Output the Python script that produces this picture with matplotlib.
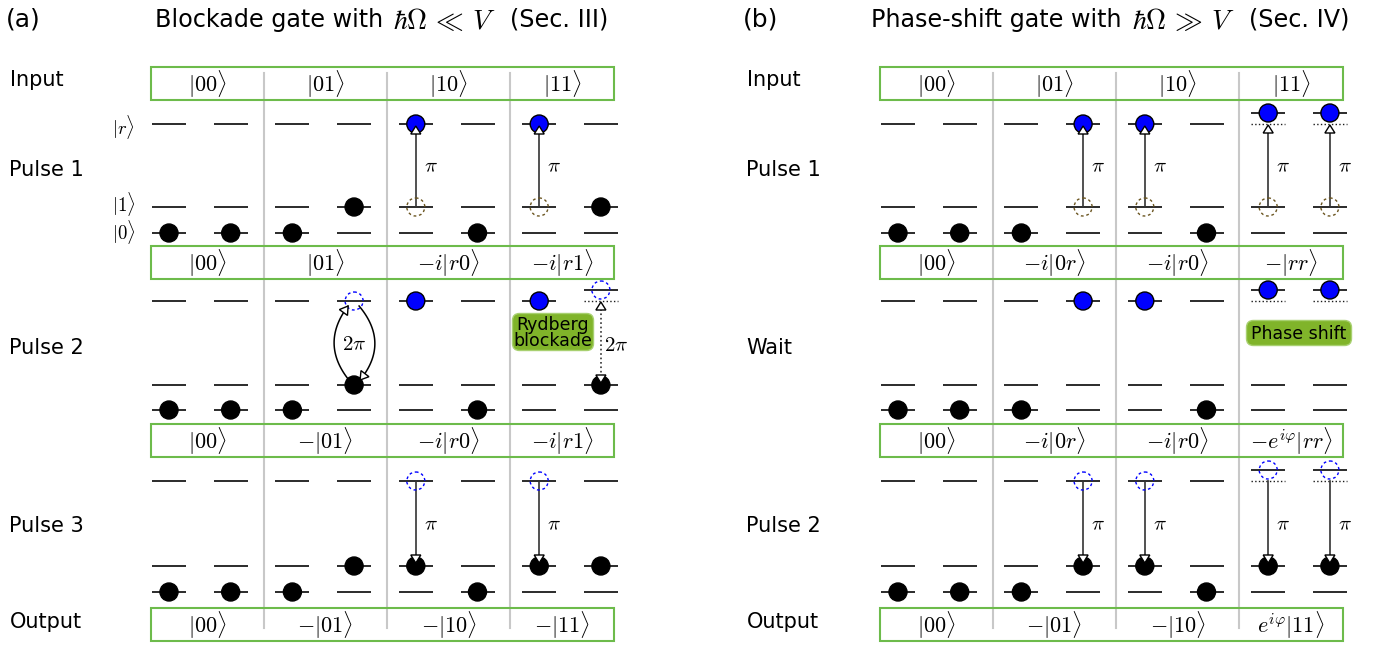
import numpy as np
import matplotlib
matplotlib.use("Agg")
import matplotlib.pyplot as plt
from matplotlib.patches import Circle, Polygon, FancyBboxPatch, Rectangle

plt.rcParams["mathtext.fontset"] = "cm"
plt.rcParams["font.family"] = ["DejaVu Sans"]

# ---------------------------------------------------------------------------
# Gate content
# Atom codes: '0' / '1' ground levels, 'r' Rydberg, 'R' interaction-shifted
# Rydberg level, '1^r' / '1^R' pi pulse up, 'r_1' / 'R_1' pi pulse down,
# '1o' full 2pi rotation, '1x' blocked 2pi rotation.
# ---------------------------------------------------------------------------
A_LABEL = "(a)"
A_TITLE = ["Blockade gate with", r"$\hbar\Omega\,\ll\,V$", "(Sec. III)"]
A_ROWS = ["Pulse 1", "Pulse 2", "Pulse 3"]
A_STATES = [
    ["0", "0", "0", "1", "1^r", "0", "1^r", "1"],
    ["0", "0", "0", "1o", "r", "0", "r", "1x"],
    ["0", "0", "0", "1", "r_1", "0", "r_1", "1"],
]
A_KETS = [
    [r"$|00\rangle$", r"$|01\rangle$", r"$|10\rangle$", r"$|11\rangle$"],
    [r"$|00\rangle$", r"$|01\rangle$", r"$-i|r0\rangle$", r"$-i|r1\rangle$"],
    [r"$|00\rangle$", r"$-|01\rangle$", r"$-i|r0\rangle$", r"$-i|r1\rangle$"],
    [r"$|00\rangle$", r"$-|01\rangle$", r"$-|10\rangle$", r"$-|11\rangle$"],
]
A_TAG = "Rydberg\nblockade"

B_LABEL = "(b)"
B_TITLE = ["Phase-shift gate with", r"$\hbar\Omega\,\gg\,V$", "(Sec. IV)"]
B_ROWS = ["Pulse 1", "Wait", "Pulse 2"]
B_STATES = [
    ["0", "0", "0", "1^r", "1^r", "0", "1^R", "1^R"],
    ["0", "0", "0", "r", "r", "0", "R", "R"],
    ["0", "0", "0", "r_1", "r_1", "0", "R_1", "R_1"],
]
B_KETS = [
    [r"$|00\rangle$", r"$|01\rangle$", r"$|10\rangle$", r"$|11\rangle$"],
    [r"$|00\rangle$", r"$-i|0r\rangle$", r"$-i|r0\rangle$", r"$-|rr\rangle$"],
    [r"$|00\rangle$", r"$-i|0r\rangle$", r"$-i|r0\rangle$", r"$-e^{i\varphi}|rr\rangle$"],
    [r"$|00\rangle$", r"$-|01\rangle$", r"$-|10\rangle$", r"$e^{i\varphi}|11\rangle$"],
]
B_TAG = "Phase shift"

LEVEL_KETS = [r"$|r\rangle$", r"$|1\rangle$", r"$|0\rangle$"]
PULSE_AREA = r"$\pi$"
LOOP_AREA = r"$2\pi$"

# ---------------------------------------------------------------------------
# Layout (pixel units, y downward)
# ---------------------------------------------------------------------------
W, H = 1396, 646
ATOM_DX = 61.7
HALF = 17            # half length of a level line
RAD = 9              # atom radius
SHIFT = 11           # interaction shift of the Rydberg level
Y_R = [124, 301, 481]
Y_1 = [207, 385, 566]
Y_0 = [233, 410, 592]
LEVEL_KET_Y = [127, 204, 232]
BOX_TOP = [67, 246, 424, 608]
BOX_H = 33
ROW_LABEL_Y = [170, 348, 526]

GREEN_EDGE = "#6dbb4b"
TAG_FACE = "#80b42a"
DIVIDER = "#c8c8c8"
BLUE = "#0000ff"
BROWN = "#6b5520"
LINE = "#1a1a1a"

fig = plt.figure(figsize=(W / 100, H / 100), dpi=100)
ax = fig.add_axes([0, 0, 1, 1])
ax.set_xlim(0, W)
ax.set_ylim(H, 0)
ax.set_aspect("equal")
ax.axis("off")


def level(x, y, style="-"):
    ax.plot([x - HALF, x + HALF], [y, y], color=LINE, lw=1.3 if style == "-" else 1.0,
            ls=style, zorder=2, solid_capstyle="butt")


def atom(x, y, kind):
    if kind == "black":
        ax.add_patch(Circle((x, y), RAD, fc="black", ec="black", lw=1, zorder=4))
    elif kind == "blue":
        ax.add_patch(Circle((x, y), RAD, fc=BLUE, ec="black", lw=1, zorder=4))
    elif kind == "blue_dash":
        ax.add_patch(Circle((x, y), RAD, fc="none", ec=BLUE, lw=1, ls=(0, (2, 2)), zorder=4))
    elif kind == "brown_dash":
        ax.add_patch(Circle((x, y), RAD, fc="none", ec=BROWN, lw=1, ls=(0, (2, 2)), zorder=4))


def head(tip, direction, length=8, width=10):
    d = np.asarray(direction, float)
    d = d / np.hypot(*d)
    p = np.array([-d[1], d[0]])
    tip = np.asarray(tip, float)
    base = tip - d * length
    pts = [tip, base + p * width / 2, base - p * width / 2]
    ax.add_patch(Polygon(pts, closed=True, fc="white", ec="black", lw=1, zorder=6))


def vline(x, y_a, y_b, style="-"):
    ax.plot([x, x], [y_a, y_b], color="#333333", lw=1.2, ls=style, zorder=3)


def bezier(p0, c, p1, n=60):
    t = np.linspace(0, 1, n)[:, None]
    return (1 - t) ** 2 * np.asarray(p0) + 2 * (1 - t) * t * np.asarray(c) + t ** 2 * np.asarray(p1)


def title_line(spans, parts, y=20):
    """Centre each title piece in its own horizontal span."""
    for (l, r), part, size, dy in zip(spans, parts, (17.2, 20, 17.2), (0, 1, 0)):
        ax.text((l + r) / 2, y + dy, part, fontsize=size, ha="center", va="center")


def draw_atom(x, row, code):
    yr, y1, y0 = Y_R[row], Y_1[row], Y_0[row]
    shifted = code in ("R", "1^R", "R_1", "1x")
    if shifted:
        level(x, yr - SHIFT)
        level(x, yr, ":")
    else:
        level(x, yr)
    level(x, y1)
    level(x, y0)
    top = yr - SHIFT if shifted else yr

    if code == "0":
        atom(x, y0, "black")
    elif code == "1":
        atom(x, y1, "black")
    elif code == "r":
        atom(x, yr, "blue")
    elif code == "R":
        atom(x, top, "blue")
    elif code in ("1^r", "1^R"):
        atom(x, y1, "brown_dash")
        atom(x, top, "blue")
        tip = yr + 1 if shifted else yr + 2
        vline(x, y1, tip + 8)
        head((x, tip), (0, -1))
        ax.text(x + 8, (yr + y1) / 2 + 1, PULSE_AREA, fontsize=15, ha="left", va="center")
    elif code in ("r_1", "R_1"):
        atom(x, top, "blue_dash")
        atom(x, y1, "black")
        tip = y1 - 3
        vline(x, yr, tip - 8)
        head((x, tip), (0, 1))
        ax.text(x + 8, (yr + y1) / 2 + 1, PULSE_AREA, fontsize=15, ha="left", va="center")
    elif code == "1o":
        atom(x, yr, "blue_dash")
        atom(x, y1, "black")
        mid = (yr + y1) / 2
        left = bezier((x - 6, y1 - 6), (x - 34, mid), (x - 6, yr + 5))
        right = bezier((x + 5, yr + 5), (x + 36, mid), (x + 6, y1 - 5))
        ax.plot(left[:, 0], left[:, 1], color="black", lw=1.1, zorder=5)
        ax.plot(right[:, 0], right[:, 1], color="black", lw=1.1, zorder=5)
        head(left[-1], left[-1] - left[-4])
        head(right[-1], right[-1] - right[-4])
        ax.text(x, mid + 1, LOOP_AREA, fontsize=15, ha="center", va="center", zorder=5)
    elif code == "1x":
        atom(x, top, "blue_dash")
        atom(x, y1, "black")
        vline(x, yr + 8, y1 - 10, ":")
        head((x, yr + 1), (0, -1))
        head((x, y1 - 2), (0, 1))
        ax.text(x + 15, (yr + y1) / 2 + 2, LOOP_AREA, fontsize=15, ha="center", va="center")


def draw_panel(x0, text_x, label, title, title_spans, rows, states, kets,
               tag, tag_xy, tag_wh, tag_size, level_kets):
    xs = x0 + ATOM_DX * np.arange(8)
    box_l, box_r = xs[0] - 18, xs[-1] + 13
    divs = [(xs[2 * k + 1] + xs[2 * k + 2]) / 2 + 2 for k in range(3)]
    edges = [box_l] + divs + [box_r]
    centers = [(edges[k] + edges[k + 1]) / 2 for k in range(4)]

    ax.text(text_x - 4, 20, label, fontsize=18, ha="left", va="center")
    title_line(title_spans, title)

    for d in divs:
        ax.plot([d, d], [73, 628], color=DIVIDER, lw=1.5, zorder=1)

    for i, top in enumerate(BOX_TOP):
        ax.add_patch(Rectangle((box_l, top), box_r - box_l, BOX_H, fc="none",
                               ec=GREEN_EDGE, lw=1.5, zorder=2))
        for c, k in zip(centers, kets[i]):
            ax.text(c, top + BOX_H / 2 + 1, k, fontsize=16, ha="center", va="center", zorder=3)

    ax.text(text_x, 80, "Input", fontsize=15, ha="left", va="center")
    ax.text(text_x, 622, "Output", fontsize=15, ha="left", va="center")
    for r, name in enumerate(rows):
        ax.text(text_x - 1, ROW_LABEL_Y[r], name, fontsize=15, ha="left", va="center")
        for j, code in enumerate(states[r]):
            draw_atom(xs[j], r, code)

    if level_kets:
        for y, k in zip(LEVEL_KET_Y, level_kets):
            ax.text(112, y, k, fontsize=13.5, ha="left", va="center")

    tx, ty = tag_xy
    tw, th = tag_wh
    ax.add_patch(FancyBboxPatch((tx - tw / 2, ty - th / 2), tw, th,
                                boxstyle="round,pad=5,rounding_size=7",
                                fc=TAG_FACE, ec="#a8d070", lw=1, zorder=7))
    ax.text(tx, ty + 1, tag, fontsize=tag_size, ha="center", va="center",
            linespacing=0.85, zorder=8)


draw_panel(169, 10, A_LABEL, A_TITLE, [(153, 385), (392, 497), (510, 608)],
           A_ROWS, A_STATES, A_KETS, A_TAG, (553, 332), (71, 27), 12.5, LEVEL_KETS)
draw_panel(898, 747, B_LABEL, B_TITLE, [(869, 1124), (1131, 1236), (1249, 1349)],
           B_ROWS, B_STATES, B_KETS, B_TAG, (1299, 333), (95, 15), 12.5, None)

fig.savefig("out.png", dpi=100, facecolor="white")
